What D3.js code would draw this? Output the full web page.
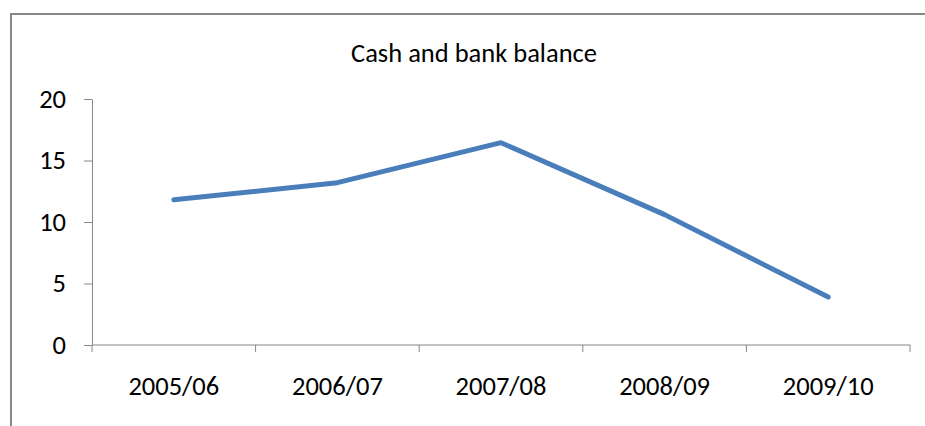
<!DOCTYPE html>
<html><head><meta charset="utf-8">
<script src="https://cdn.jsdelivr.net/npm/d3@7"></script>
<style>
html,body{margin:0;padding:0;background:#fff;}
svg text{font-family:Carlito,Calibri,Lato,sans-serif;fill:#000;}
</style></head>
<body><svg id="c" width="925" height="426"></svg>
<script>
const categories = ["2005/06","2006/07","2007/08","2008/09","2009/10"];
const values = [11.8, 13.2, 16.45, 10.6, 3.9];
const yTicks = [0,5,10,15,20];
const title = "Cash and bank balance";

const svg = d3.select("#c");
// outer frame
svg.append("rect").attr("x",11).attr("y",14).attr("width",1000).attr("height",600)
  .attr("fill","none").attr("stroke","#878787").attr("stroke-width",2);

const pL=92, pR=910, pT=99, pB=345;
const fs = "26.5px";
const x = d3.scaleBand().domain(categories).range([pL,pR]).padding(0);
const y = d3.scaleLinear().domain([0,20]).range([pB,pT]);

svg.append("text").attr("x",474).attr("y",53).attr("text-anchor","middle")
  .attr("dominant-baseline","central").style("font-size",fs).text(title);

// y axis
const ya = svg.append("g").attr("transform",`translate(${pL},0)`)
  .call(d3.axisLeft(y).tickValues(yTicks).tickSize(8).tickSizeOuter(0).tickPadding(18));
ya.select(".domain").attr("stroke","#868686");
ya.selectAll(".tick line").attr("stroke","#868686");
ya.selectAll(".tick text").style("font-size",fs);

// x axis
const xa = svg.append("g").attr("transform",`translate(0,${pB})`)
  .call(d3.axisBottom(x).tickSize(0).tickPadding(31));
xa.select(".domain").attr("stroke","#868686").attr("d",`M${pL},0H${pR}`);
xa.selectAll(".tick text").style("font-size",fs);
const bounds = categories.map(c=>x(c)).concat([x(categories[categories.length-1])+x.bandwidth()]);
xa.selectAll(".sep").data(bounds).enter().append("line")
  .attr("x1",d=>d).attr("x2",d=>d).attr("y1",0).attr("y2",7).attr("stroke","#868686");

// line
const line = d3.line().x((d,i)=>x(categories[i])+x.bandwidth()/2).y(d=>y(d));
svg.append("path").datum(values).attr("d",line).attr("fill","none")
  .attr("stroke","#4a7ebb").attr("stroke-width",5)
  .attr("stroke-linecap","round").attr("stroke-linejoin","round");
</script></body></html>
